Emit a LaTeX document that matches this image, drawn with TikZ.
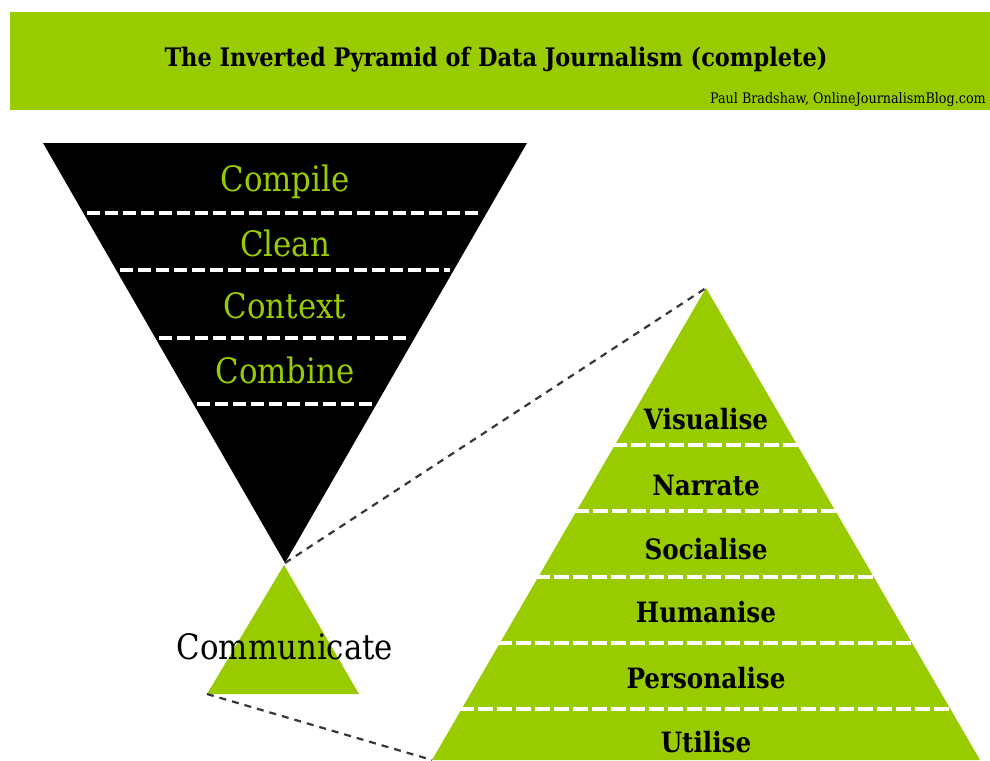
\documentclass[tikz,border=0pt]{standalone}
\usepackage{fontspec}
\setmainfont{DejaVu Serif}
\newfontfamily\narrowserif{DejaVu Serif}[FakeStretch=0.88]
\usetikzlibrary{calc}
\definecolor{jgreen}{RGB}{153,204,0}
\definecolor{conn}{RGB}{55,55,55}
\tikzset{
  sepline/.style={white, line width=3.5pt, dash pattern=on 13pt off 5pt},
  sepgreen/.style={white, line width=4.5pt, dash pattern=on 15pt off 4pt},
  toplabel/.style={text=jgreen, font=\narrowserif\fontsize{35}{35}\selectfont, inner sep=0pt},
  botlabel/.style={text=black, font=\narrowserif\bfseries\fontsize{28}{28}\selectfont, inner sep=0pt},
  zoomline/.style={conn, line width=2.2pt, dash pattern=on 7pt off 6pt},
}
\begin{document}
\begin{tikzpicture}[x=1pt,y=-1pt]
\useasboundingbox (0,0) rectangle (990,760);
\fill[white] (0,0) rectangle (990,760);
% header
\fill[jgreen] (10,12) rectangle (990,110);
\node[font=\narrowserif\bfseries\fontsize{25.5}{25.5}\selectfont, inner sep=0pt] (title) at (496,60) {The Inverted Pyramid of Data Journalism (complete)};
\node[anchor=base east, font=\narrowserif\fontsize{14.5}{14.5}\selectfont, inner sep=0pt] (credit) at (986,103) {Paul Bradshaw, OnlineJournalismBlog.com};
% inverted pyramid
\coordinate (iTL) at (43,143);
\coordinate (iTR) at (527,143);
\coordinate (iB) at (285,563);
\fill[black] (iTL) -- (iTR) -- (iB) -- cycle;
\foreach \t in {0.1667,0.3024,0.4643,0.6214}{
  \draw[sepline] ($(iTL)!\t!(iB)+(4,0)$) -- ($(iTR)!\t!(iB)+(-4,0)$);
}
\node[toplabel] (compile) at (285,182) {Compile};
\node[toplabel] (clean) at (285,243) {Clean};
\node[toplabel] (context) at (285,306) {Context};
\node[toplabel] (combine) at (285,370) {Combine};
% small pyramid
\coordinate (sT) at (284,565);
\coordinate (sL) at (207,694);
\coordinate (sR) at (359,694);
\fill[jgreen] (sT) -- (sR) -- (sL) -- cycle;
\node[font=\narrowserif\fontsize{35}{35}\selectfont, inner sep=0pt] (comm) at (285,647) {Communicate};
% big pyramid
\coordinate (pT) at (706,288);
\coordinate (pL) at (432,760);
\coordinate (pR) at (980,760);
\fill[jgreen] (pT) -- (pR) -- (pL) -- cycle;
\foreach \t in {0.3326,0.4725,0.6123,0.7521,0.8919}{
  \draw[sepgreen] ($(pT)!\t!(pL)+(-3,0)$) -- ($(pT)!\t!(pR)+(3,0)$);
}
\node[botlabel] (vis) at (706,419) {Visualise};
\node[botlabel] (nar) at (706,485) {Narrate};
\node[botlabel] (soc) at (706,549) {Socialise};
\node[botlabel] (hum) at (706,612) {Humanise};
\node[botlabel] (per) at (706,678) {Personalise};
\node[botlabel] (uti) at (706,742) {Utilise};
% zoom connectors
\draw[zoomline] (iB) -- (pT);
\draw[zoomline] (sL) -- (pL);
\end{tikzpicture}
\end{document}
